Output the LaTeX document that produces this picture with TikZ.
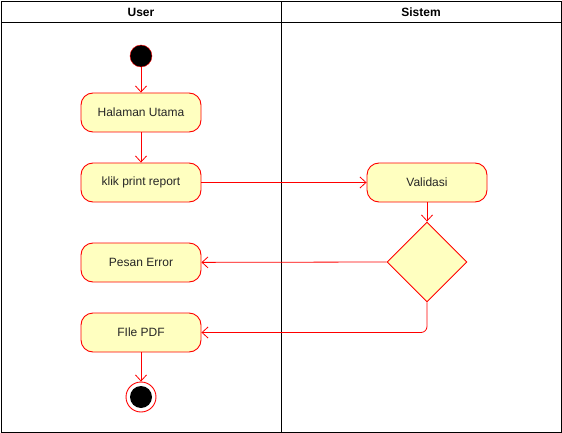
\documentclass[tikz,border=0pt]{standalone}
\usepackage{fontspec}
\setmainfont{Liberation Sans}
\usetikzlibrary{shapes.geometric,arrows.meta}
\definecolor{actfill}{HTML}{FFFFC0}
\definecolor{actline}{HTML}{FF0000}
\tikzset{
  act/.style={draw=actline, fill=actfill, line width=0.9pt, rounded corners=12pt, minimum width=120pt, minimum height=39pt, inner sep=0pt, font=\fontsize{12pt}{14pt}\selectfont, text=black!85},
  dec/.style={draw=actline, fill=actfill, line width=0.9pt, diamond, minimum width=80pt, minimum height=80pt, inner sep=0pt},
  flow/.style={draw=actline, -{Straight Barb[length=6pt,width=11pt]}, line width=0.8pt},
  lane/.style={draw=black, line width=1pt},
  hdr/.style={font=\fontsize{12pt}{14pt}\selectfont\bfseries}
}
\begin{document}
\begin{tikzpicture}[x=1pt,y=-1pt]
\useasboundingbox (0,0) rectangle (562,433);
% swimlanes
\draw[lane] (1.5,1.5) rectangle (561,432);
\draw[lane] (1.5,23) -- (561,23);
\draw[lane] (281,1.5) -- (281,432);
\node[hdr] (hu) at (141,12) {User};
\node[hdr] (hs) at (421,12) {Sistem};
% nodes
\node[circle, fill=black, draw=actline, minimum size=22pt, inner sep=0pt] (start) at (141,56) {};
\node[act] (home) at (141,112.5) {Halaman Utama};
\node[act] (klik) at (141,182.5) {klik print report};
\node[act] (val) at (427,182.5) {Validasi};
\node[dec] (d) at (427,262) {};
\node[act] (err) at (141,262.5) {Pesan Error};
\node[act] (pdf) at (141,332.5) {FIle PDF};
\node[circle, draw=actline, line width=0.9pt, minimum size=30pt, inner sep=0pt] (end) at (141,397) {};
\node[circle, fill=black, minimum size=22pt, inner sep=0pt] (endin) at (end.center) {};
% flows
\draw[flow] (start) -- (home);
\draw[flow] (home) -- (klik);
\draw[flow] (klik) -- (val);
\draw[flow] (val) -- (d);
\draw[flow] (d.west) -- (err);
\draw[flow, rounded corners=6pt] (d.south) |- (pdf.east);
\draw[flow] (pdf) -- (end);
\end{tikzpicture}
\end{document}
